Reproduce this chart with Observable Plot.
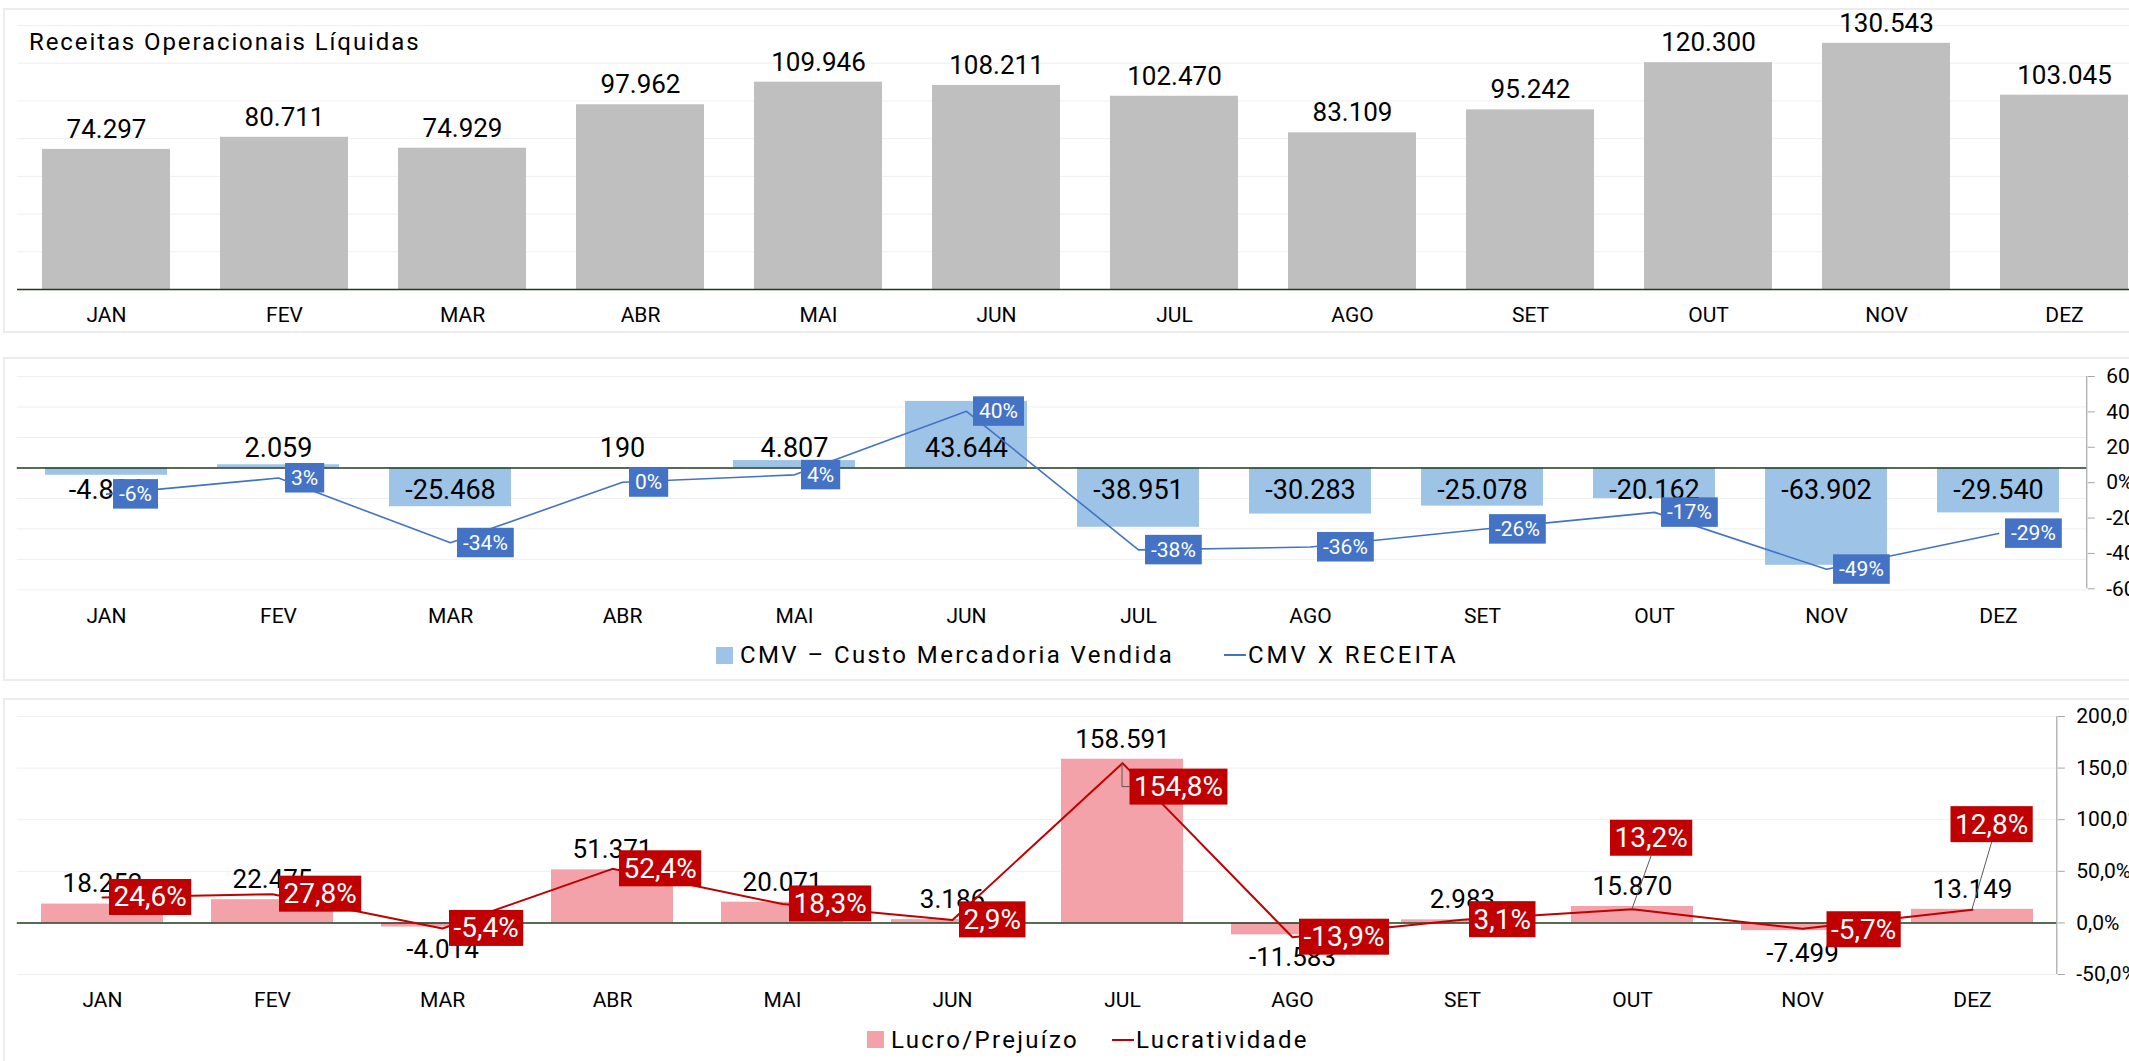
<!DOCTYPE html>
<html>
<head>
<meta charset="utf-8">
<script src="https://cdn.jsdelivr.net/npm/d3@7"></script>
<script src="https://cdn.jsdelivr.net/npm/@observablehq/plot@0.6"></script>
<style>
html, body { margin: 0; padding: 0; background: #fff; overflow: hidden; }
#outer { position: relative; width: 2129px; height: 1061px; overflow: hidden; font-family: Roboto, sans-serif; color: #000; }
#inner { position: absolute; left: 0; top: 0; width: 2200px; height: 1061px; }
.card { position: absolute; left: 3px; width: 2300px; border: 2px solid #ececec; box-sizing: border-box; background: #fff; }
.layer { position: absolute; left: 0; width: 2200px; }
.layer svg { position: absolute; left: 0; top: 0; display: block; }
.title { position: absolute; font-size: 24px; line-height: 24px; letter-spacing: 1.9px; white-space: nowrap; }
.lg-text { position: absolute; font-size: 24px; line-height: 24px; letter-spacing: 2.3px; white-space: nowrap; }
.lg-sq { position: absolute; width: 17px; height: 17px; }
.lg-ln { position: absolute; height: 2px; }
</style>
</head>
<body>
<div id="outer"><div id="inner">
  <div class="card" style="top:8px;height:325px"></div>
  <div class="card" style="top:357px;height:324px"></div>
  <div class="card" style="top:698px;height:400px"></div>
  <div class="layer" id="L1" style="top:0px;height:340px"></div>
  <div class="layer" id="L2" style="top:340px;height:350px"></div>
  <div class="layer" id="L3" style="top:690px;height:371px"></div>
  <div class="title" style="left:29px;top:30px">Receitas Operacionais Líquidas</div>

  <div class="lg-sq" style="left:716px;top:647px;background:#9dc3e6"></div>
  <div class="lg-text" style="left:740px;top:643px;letter-spacing:2.4px">CMV – Custo Mercadoria Vendida</div>
  <div class="lg-ln" style="left:1224px;top:654px;width:22px;background:#4472c4"></div>
  <div class="lg-text" style="left:1248px;top:643px;letter-spacing:3px">CMV X RECEITA</div>

  <div class="lg-sq" style="left:867px;top:1031px;background:#f2a2a8"></div>
  <div class="lg-text" style="left:891px;top:1028px">Lucro/Prejuízo</div>
  <div class="lg-ln" style="left:1112px;top:1039px;width:22px;background:#c00000"></div>
  <div class="lg-text" style="left:1136px;top:1028px">Lucratividade</div>
</div></div>
<script>
// ---------- DATA ----------
const meses = ["JAN","FEV","MAR","ABR","MAI","JUN","JUL","AGO","SET","OUT","NOV","DEZ"];
const receitas = [74297, 80711, 74929, 97962, 109946, 108211, 102470, 83109, 95242, 120300, 130543, 103045];
const cmv = [-4826, 2059, -25468, 190, 4807, 43644, -38951, -30283, -25078, -20162, -63902, -29540];
const cmvXReceita = [-6.5, 2.6, -34.0, 0.2, 4.4, 40.3, -38.0, -36.4, -26.3, -16.8, -49.0, -28.7];
const lucro = [18252, 22475, -4014, 51371, 20071, 3186, 158591, -11583, 2983, 15870, -7499, 13149];
const lucratividade = [24.6, 27.8, -5.4, 52.4, 18.3, 2.9, 154.8, -13.9, 3.1, 13.2, -5.7, 12.8];
const ticksPct2 = [-60, -40, -20, 0, 20, 40, 60];
const ticksPct3 = [-50, 0, 50, 100, 150, 200];

// ---------- helpers ----------
const br = d3.formatLocale({decimal: ",", thousands: ".", grouping: [3], currency: ["R$", ""], minus: "-"});
const fmtInt = br.format(",d");
const fmt1 = br.format(".1f");
const W = 2200;
const NS = "http://www.w3.org/2000/svg";
const baseStyle = {background: "transparent", maxWidth: "none", fontFamily: "Roboto, sans-serif", color: "#000"};
const baseColor = "#1f3a1f";
const gridColor = "#efefef";

const d1 = meses.map((mes, i) => ({mes, valor: receitas[i]}));
const d2 = meses.map((mes, i) => ({mes, valor: cmv[i], pct: cmvXReceita[i]}));
const d3d = meses.map((mes, i) => ({mes, valor: lucro[i], pct: lucratividade[i]}));

function mk(tag, attrs) {
  const e = document.createElementNS(NS, tag);
  for (const k in attrs) e.setAttribute(k, attrs[k]);
  return e;
}
const monthAxis = () => Plot.axisX({tickSize: 0, tickPadding: 18, fontSize: 21, fill: "#000", label: null});

// ---------- PANEL 1 ----------
const x1 = {domain: meses, paddingInner: 0.281, paddingOuter: 0.1405, axis: null};
const p1 = Plot.plot({
  width: W, height: 340,
  marginTop: 25, marginBottom: 51, marginLeft: 17, marginRight: 47,
  style: baseStyle,
  x: x1,
  y: {domain: [0, 140000], axis: null},
  marks: [
    Plot.gridY({ticks: [20000, 40000, 60000, 80000, 100000, 120000, 140000], stroke: gridColor, strokeOpacity: 1}),
    Plot.barY(d1, {x: "mes", y: "valor", fill: "#bfbfbf"}),
    Plot.ruleY([0], {stroke: baseColor, strokeWidth: 1.5}),
    Plot.text(d1, {x: "mes", y: "valor", text: d => fmtInt(d.valor), dy: -20, fontSize: 26, fill: "#000"}),
    monthAxis()
  ]
});
document.getElementById("L1").appendChild(p1);

// ---------- PANEL 2 ----------
const x2 = {domain: meses, paddingInner: 0.293, paddingOuter: 0.1465, axis: null};
const m2 = {marginTop: 36, marginLeft: 16.75, marginRight: 113.25};
const p2a = Plot.plot({
  width: W, height: 350, ...m2, marginBottom: 100.7,
  style: baseStyle,
  x: x2,
  y: {domain: [-80000, 60000], axis: null},
  marks: [
    Plot.gridY({ticks: [-80000, -60000, -40000, -20000, 20000, 40000, 60000], stroke: gridColor, strokeOpacity: 1}),
    Plot.barY(d2, {x: "mes", y: "valor", fill: "#9dc3e6"}),
    Plot.ruleY([0], {stroke: baseColor, strokeWidth: 1.5}),
    Plot.text(d2.filter(d => d.valor >= 0), {x: "mes", y: d => 0, text: d => fmtInt(d.valor), dy: -20, fontSize: 27, fill: "#000"}),
    Plot.text(d2.filter(d => d.valor < 0), {x: "mes", y: d => 0, text: d => fmtInt(d.valor), dy: 22, fontSize: 27, fill: "#000"}),
    monthAxis()
  ]
});
const p2b = Plot.plot({
  width: W, height: 350, ...m2, marginBottom: 101.7,
  style: baseStyle,
  x: x2,
  y: {domain: [-60, 60], axis: null},
  marks: [
    Plot.line(d2, {x: "mes", y: "pct", stroke: "#4472c4", strokeWidth: 1.6}),
    Plot.text(d2, {x: "mes", y: "pct", text: d => Math.round(d.pct) + "%", textAnchor: "start", dx: 12.5, fontSize: 21, fill: "#fff", ariaDescription: "caixa"}),
    Plot.axisY({anchor: "right", ticks: ticksPct2, tickFormat: d => d + "%", tickSize: 7, tickPadding: 12, fontSize: 21, stroke: "#a6a6a6", fill: "#000", label: null})
  ]
});
document.getElementById("L2").appendChild(p2a);
document.getElementById("L2").appendChild(p2b);

// ---------- PANEL 3 ----------
const x3 = {domain: meses, paddingInner: 0.282, paddingOuter: 0.141, axis: null};
const m3 = {marginTop: 26, marginBottom: 87, marginLeft: 16.8, marginRight: 143.2};
const p3a = Plot.plot({
  width: W, height: 371, ...m3,
  style: baseStyle,
  x: x3,
  y: {domain: [-50000, 200000], axis: null},
  marks: [
    Plot.gridY({ticks: [-50000, 50000, 100000, 150000, 200000], stroke: gridColor, strokeOpacity: 1}),
    Plot.barY(d3d, {x: "mes", y: "valor", fill: "#f2a2a8"}),
    Plot.ruleY([0], {stroke: baseColor, strokeWidth: 1.5}),
    Plot.text(d3d.filter(d => d.valor >= 0), {x: "mes", y: "valor", text: d => fmtInt(d.valor), dy: -20, fontSize: 26, fill: "#000"}),
    Plot.text(d3d.filter(d => d.valor < 0), {x: "mes", y: "valor", text: d => fmtInt(d.valor), dy: 23, fontSize: 26, fill: "#000"}),
    monthAxis()
  ]
});
// label placement tweaks (layout, not data)
const nudge3 = {
  JUL: {dx: 11.5, dy: 24, leader: "elbow"},
  OUT: {dx: -18, dy: -71, leader: "straight"},
  NOV: {dx: 28.5, dy: 1, leader: null},
  DEZ: {dx: -17.5, dy: -85, leader: "straight"}
};
const redTextOpts = {x: "mes", y: "pct", text: d => fmt1(d.pct) + "%", textAnchor: "start", fontSize: 28, fill: "#fff"};
const p3b = Plot.plot({
  width: W, height: 371, ...m3,
  style: baseStyle,
  x: x3,
  y: {domain: [-50, 200], axis: null},
  marks: [
    Plot.line(d3d, {x: "mes", y: "pct", stroke: "#c00000", strokeWidth: 2}),
    Plot.text(d3d.filter(d => !nudge3[d.mes]), {...redTextOpts, dx: 11, ariaDescription: "caixa"}),
    ...Object.keys(nudge3).map(k => Plot.text(d3d.filter(d => d.mes === k),
      {...redTextOpts, dx: nudge3[k].dx, dy: nudge3[k].dy, ariaDescription: "caixa-" + k})),
    Plot.axisY({anchor: "right", ticks: ticksPct3, tickFormat: d => fmt1(d) + "%", tickSize: 7, tickPadding: 12, fontSize: 21, stroke: "#a6a6a6", fill: "#000", label: null})
  ]
});
document.getElementById("L3").appendChild(p3a);
document.getElementById("L3").appendChild(p3b);

// ---------- post-processing: label boxes, leaders, right axis line ----------
function decorate(svg, fill, padX, boxH, data, nudges) {
  const sr = svg.getBoundingClientRect();
  const xs = svg.scale("x"), ys = svg.scale("y");
  const xr = xs.range[1];
  svg.appendChild(mk("line", {x1: xr, x2: xr, y1: ys.range[0], y2: ys.range[1], stroke: "#a6a6a6", "stroke-width": 1.2}));
  const groups = Array.from(svg.querySelectorAll('g[aria-description^="caixa"]'));
  if (!groups.length) return;
  const layer = mk("g", {});
  groups[0].parentNode.insertBefore(layer, groups[0]);
  groups.forEach(g => {
    const lbl = g.getAttribute("aria-description");
    const mes = lbl.startsWith("caixa-") ? lbl.slice(6) : null;
    g.querySelectorAll("text").forEach(t => {
      const r = t.getBoundingClientRect();
      const bx = r.left - sr.left - padX;
      const cy = r.top - sr.top + r.height / 2;
      const bw = r.width + 2 * padX;
      const by = cy - boxH / 2;
      if (mes && nudges[mes] && nudges[mes].leader) {
        const d = data.find(e => e.mes === mes);
        const px = xs.apply(mes) + xs.bandwidth / 2;
        const py = ys.apply(d.pct);
        let pts;
        if (nudges[mes].leader === "elbow") pts = `${px},${py} ${px},${cy} ${bx},${cy}`;
        else pts = `${bx + bw / 2},${by + boxH} ${px},${py}`;
        layer.appendChild(mk("polyline", {points: pts, fill: "none", stroke: "#595959", "stroke-width": 1}));
      }
      layer.appendChild(mk("rect", {x: bx, y: by, width: bw, height: boxH, fill}));
    });
  });
}
decorate(p2b, "#4472c4", 6, 29.5, d2, {});
decorate(p3b, "#c00000", 4.5, 36, d3d, nudge3);
</script>
</body>
</html>
